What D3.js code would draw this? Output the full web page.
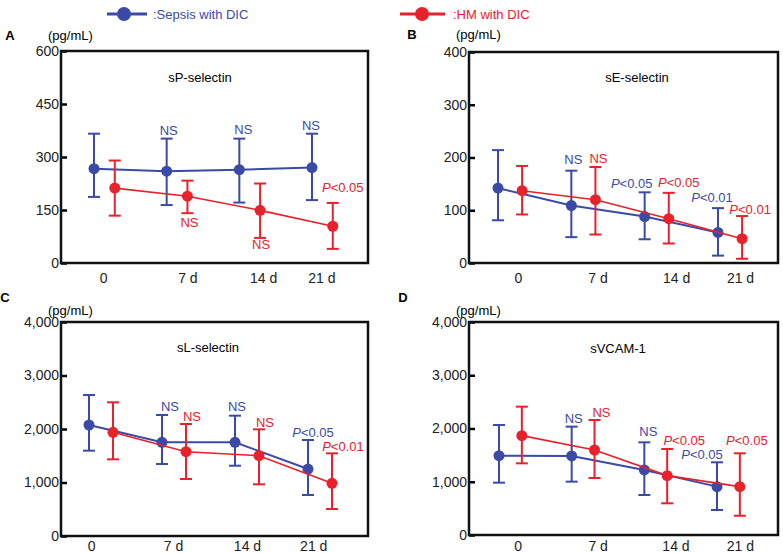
<!DOCTYPE html>
<html><head><meta charset="utf-8">
<script src="https://cdn.jsdelivr.net/npm/d3@7"></script>
<style>body{margin:0;background:#fff}svg{display:block;font-family:Arial,"Liberation Sans",sans-serif}</style>
</head><body>
<svg id="c" width="783" height="553"></svg>
<script>
// ---- data ----
const days = [0, 7, 14, 21];
const tickLabels = ["0", "7 d", "14 d", "21 d"];
const seriesNames = [":Sepsis with DIC", ":HM with DIC"];

// Panel A: sP-selectin
const aSepsisMean = [267, 260, 264, 270];
const aSepsisHigh = [366, 352, 352, 366];
const aSepsisLow  = [187, 164, 171, 178];
const aHMMean = [212, 189, 149, 104];
const aHMHigh = [290, 233, 225, 170];
const aHMLow  = [134, 141, 71, 40];
const aSepsisNote = ["", "NS", "NS", "NS"];
const aHMNote = ["", "NS", "NS", "P<0.05"];

// Panel B: sE-selectin
const bSepsisMean = [142, 109, 88, 58];
const bSepsisHigh = [214, 175, 134, 104];
const bSepsisLow  = [81, 49, 45, 14];
const bHMMean = [137, 120, 84, 46];
const bHMHigh = [184, 182, 133, 89];
const bHMLow  = [92, 54, 37, 8];
const bSepsisNote = ["", "NS", "P<0.05", "P<0.01"];
const bHMNote = ["", "NS", "P<0.05", "P<0.01"];

// Panel C: sL-selectin
const cSepsisMean = [2075, 1751, 1751, 1252];
const cSepsisHigh = [2636, 2262, 2249, 1794];
const cSepsisLow  = [1595, 1346, 1314, 766];
const cHMMean = [1938, 1576, 1501, 985];
const cHMHigh = [2499, 2093, 1994, 1545];
const cHMLow  = [1433, 1065, 966, 505];
const cSepsisNote = ["", "NS", "NS", "P<0.05"];
const cHMNote = ["", "NS", "NS", "P<0.01"];

// Panel D: sVCAM-1
const dSepsisMean = [1490, 1485, 1221, 908];
const dSepsisHigh = [2066, 2035, 1740, 1365];
const dSepsisLow  = [983, 1002, 751, 469];
const dHMMean = [1866, 1596, 1115, 908];
const dHMHigh = [2410, 2160, 1615, 1534];
const dHMLow  = [1346, 1070, 595, 362];
const dSepsisNote = ["", "NS", "NS", "P<0.05"];
const dHMNote = ["", "NS", "P<0.05", "P<0.05"];

const aTicks = [0, 150, 300, 450, 600];
const bTicks = [0, 100, 200, 300, 400];
const cTicks = [0, 1000, 2000, 3000, 4000];
const dTicks = [0, 1000, 2000, 3000, 4000];

const BLUE = "#3a4aa6", RED = "#e8212b";
const FONT = "Arial, 'Liberation Sans', sans-serif";
const svg = d3.select("#c");

// ---- legend ----
function legend(x0, x1, cx, tx, color, label) {
  const g = svg.append("g");
  g.append("line").attr("x1", x0).attr("x2", x1).attr("y1", 14).attr("y2", 14)
    .attr("stroke", color).attr("stroke-width", 3);
  g.append("circle").attr("cx", cx).attr("cy", 14).attr("r", 7).attr("fill", color);
  g.append("text").attr("x", tx).attr("y", 18.5).attr("fill", color)
    .attr("font-size", 13).text(label);
}
legend(107, 147, 124, 153, BLUE, seriesNames[0]);
legend(400, 445, 422, 453, RED, seriesNames[1]);

// ---- panels ----
const panels = [
  {letter: "A", title: "sP-selectin", ticks: aTicks, fmt: d3.format("d"),
   s: [aSepsisMean, aSepsisLow, aSepsisHigh, aSepsisNote], h: [aHMMean, aHMLow, aHMHigh, aHMNote],
   box: [61, 51, 368, 263], bx: [94, 312], redShift: 2.0, labelDays: [0.87, 9, 16.3, 21.9], labelY: 20,
   titlePos: [200, 77], unitY: 35, letterPos: [10, 35],
   sNoteOff: [null, [2, -41], [4, -40], [-1, -42.5]],
   hNoteOff: [null, [2, 26], [1, 34], [10, -38.5]]},
  {letter: "B", title: "sE-selectin", ticks: bTicks, fmt: d3.format("d"),
   s: [bSepsisMean, bSepsisLow, bSepsisHigh, bSepsisNote], h: [bHMMean, bHMLow, bHMHigh, bHMNote],
   box: [469, 52, 778, 263], bx: [498, 718], redShift: 2.3, labelDays: [1.9, 9.5, 17, 23.1], labelY: 20,
   titlePos: [637, 77], unitY: 34, letterPos: [412, 34],
   sNoteOff: [null, [2, -46], [-13, -33], [-6, -35]],
   hNoteOff: [null, [3, -41], [10, -36], [8, -29]]},
  {letter: "C", title: "sL-selectin", ticks: cTicks, fmt: d3.format(","),
   s: [cSepsisMean, cSepsisLow, cSepsisHigh, cSepsisNote], h: [cHMMean, cHMLow, cHMHigh, cHMNote],
   box: [61, 322, 368, 536], bx: [89, 308], redShift: 2.3, labelDays: [0.2, 8.05, 15.15, 21.5], labelY: 15,
   titlePos: [208, 347], unitY: 310, letterPos: [5, 297],
   sNoteOff: [null, [8, -36], [2, -36], [5, -37]],
   hNoteOff: [null, [6, -35], [6, -33], [11, -37]]},
  {letter: "D", title: "sVCAM-1", ticks: dTicks, fmt: d3.format(","),
   s: [dSepsisMean, dSepsisLow, dSepsisHigh, dSepsisNote], h: [dHMMean, dHMLow, dHMHigh, dHMNote],
   box: [469, 322, 778, 535], bx: [499, 717], redShift: 2.2, labelDays: [1.8, 9.5, 17, 23.2], labelY: 16,
   titlePos: [618, 348], unitY: 310, letterPos: [403, 297],
   sNoteOff: [null, [2, -37], [4, -38], [-15, -32]],
   hNoteOff: [null, [7, -38], [17, -35], [7, -46]]}
];

panels.forEach(p => {
  const [L, T, R, B] = p.box;
  const g = svg.append("g");
  const y = d3.scaleLinear().domain([0, d3.max(p.ticks)]).range([B, T]);
  const x = d3.scaleLinear().domain([0, 21]).range(p.bx);

  // letter + unit
  g.append("text").attr("x", p.letterPos[0]).attr("y", p.letterPos[1] + 4.5)
    .attr("font-size", 13).attr("font-weight", "bold").attr("text-anchor", "middle").text(p.letter);
  g.append("text").attr("x", L - 13).attr("y", p.unitY + 5).attr("font-size", 13).text("(pg/mL)");

  // y axis (ticks pointing inward)
  const yAxis = d3.axisLeft(y).tickValues(p.ticks).tickFormat(p.fmt).tickSize(-6).tickPadding(2);
  const ya = g.append("g").attr("transform", `translate(${L},0)`).call(yAxis);
  ya.select(".domain").remove();
  ya.selectAll("line").attr("stroke", "#000").attr("stroke-width", 2.5);
  ya.selectAll("text").attr("font-size", 14).attr("font-family", FONT)
    .attr("fill", "#222").attr("x", -2);

  // x labels
  const xa = d3.axisBottom(x).tickValues(p.labelDays).tickFormat((d, i) => tickLabels[i]).tickSize(0);
  const xg = g.append("g").attr("transform", `translate(0,${B})`).call(xa);
  xg.select(".domain").remove();
  xg.selectAll("text").attr("font-size", 14).attr("font-family", FONT).attr("fill", "#222")
    .attr("dy", null).attr("y", p.labelY);

  // box
  g.append("rect").attr("x", L).attr("y", T).attr("width", R - L).attr("height", B - T)
    .attr("fill", "none").attr("stroke", "#111").attr("stroke-width", 2.5);

  // title
  g.append("text").attr("x", p.titlePos[0]).attr("y", p.titlePos[1] + 4.5)
    .attr("text-anchor", "middle").attr("font-size", 13).text(p.title);

  function drawSeries(ser, shift, color, lw, offs) {
    const [mean, low, high, notes] = ser;
    const px = i => x(days[i] + shift);
    const line = d3.line().x((d, i) => px(i)).y(d => y(d));
    g.append("path").datum(mean).attr("d", line).attr("fill", "none")
      .attr("stroke", color).attr("stroke-width", lw);
    mean.forEach((m, i) => {
      const cx = px(i);
      g.append("line").attr("x1", cx).attr("x2", cx).attr("y1", y(low[i])).attr("y2", y(high[i]))
        .attr("stroke", color).attr("stroke-width", 2);
      [low[i], high[i]].forEach(v => {
        g.append("line").attr("x1", cx - 6).attr("x2", cx + 6).attr("y1", y(v)).attr("y2", y(v))
          .attr("stroke", color).attr("stroke-width", 2);
      });
      g.append("circle").attr("cx", cx).attr("cy", y(m)).attr("r", 5.5).attr("fill", color);
      const note = notes[i];
      if (note) {
        const o = offs[i];
        const t = g.append("text").attr("x", cx + o[0]).attr("y", y(m) + o[1] + 4.5)
          .attr("text-anchor", "middle").attr("font-size", 13).attr("fill", color);
        if (note.startsWith("P")) {
          t.append("tspan").attr("font-style", "italic").text("P");
          t.append("tspan").text(note.slice(1));
        } else t.text(note);
      }
    });
  }
  drawSeries(p.s, 0, BLUE, 2, p.sNoteOff);
  drawSeries(p.h, p.redShift, RED, 1.6, p.hNoteOff);
});
</script>
</body></html>
